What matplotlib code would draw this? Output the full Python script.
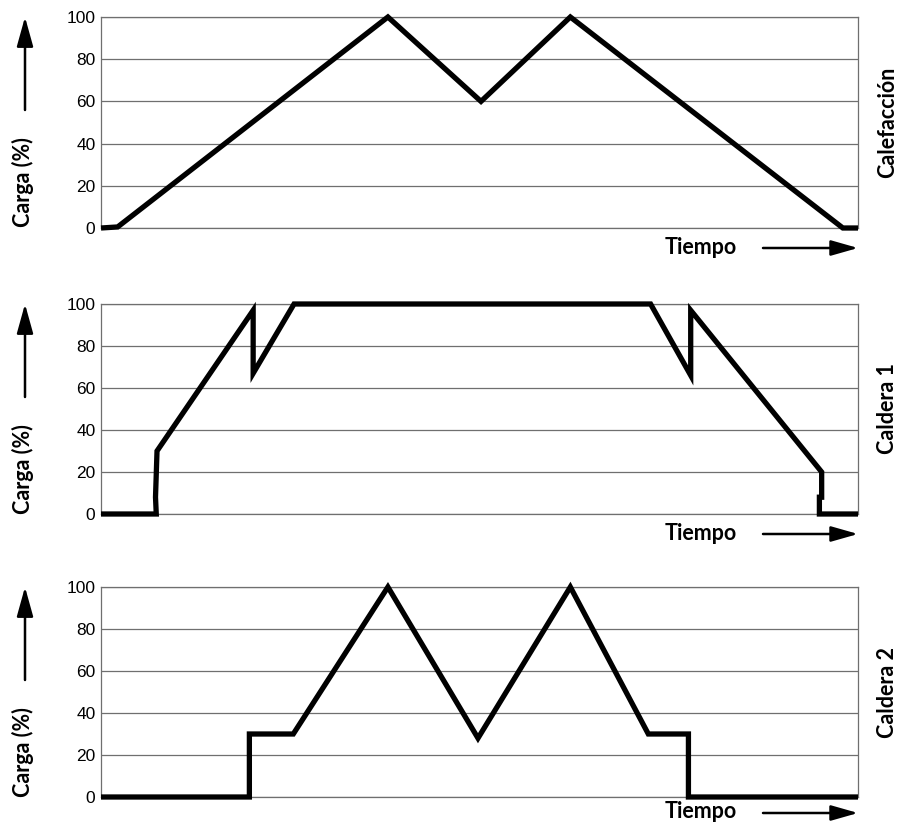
import matplotlib
matplotlib.use("Agg")
import matplotlib.pyplot as plt

# ---- data (time in % of the horizontal span, load in %) ----
calef_t = [0, 2.2, 37.9, 50.2, 62.0, 98.0, 100]
calef_y = [0, 0.5, 100, 60, 100, 0, 0]

cald1_t = [0, 7.3, 7.2, 7.4, 20.1, 20.1, 25.5, 72.6, 77.9, 77.9, 95.2, 95.2, 94.9, 94.9, 100]
cald1_y = [0, 0, 8, 30, 97, 67, 100, 100, 66, 97, 20, 8, 8, 0, 0]

cald2_t = [0, 19.6, 19.6, 25.4, 37.9, 49.8, 62.0, 72.3, 77.6, 77.6, 100]
cald2_y = [0, 0, 30, 30, 100, 28, 100, 30, 30, 0, 0]

yticks = [0, 20, 40, 60, 80, 100]
panel_names = ["Calefacción", "Caldera 1", "Caldera 2"]
ylabel = "Carga (%)"
xlabel = "Tiempo"

series = [(calef_t, calef_y), (cald1_t, cald1_y), (cald2_t, cald2_y)]

W, H = 899, 823
fig = plt.figure(figsize=(W / 100, H / 100), dpi=100)

# panel pixel geometry (top, bottom of plotting area, y of "Tiempo" row)
panels_px = [(17, 228, 247), (304, 514, 533), (587, 797, 812)]
left_px, right_px = 101, 858

label_font = dict(family=["Lato", "DejaVu Sans"], fontweight="bold", fontsize=15.5, color="black")
grey = "#6f6f6f"

def fx(px):
    return px / W

def fy(py):
    return 1 - py / H

for (t, y), (top, bot, ty), name in zip(series, panels_px, panel_names):
    ax = fig.add_axes([fx(left_px), fy(bot), fx(right_px) - fx(left_px), (bot - top) / H])
    ax.set_xlim(0, 100)
    ax.set_ylim(0, 100)
    ax.set_yticks(yticks)
    ax.set_xticks([])
    ax.grid(axis="y", color=grey, linewidth=0.9)
    ax.set_axisbelow(True)
    for s in ax.spines.values():
        s.set_color(grey)
        s.set_linewidth(0.9)
    ax.tick_params(axis="y", length=0, pad=4, labelsize=12.5)
    for lab in ax.get_yticklabels():
        lab.set_fontfamily(["Liberation Sans", "DejaVu Sans"])
    ax.plot(t, y, color="black", linewidth=3.8, solid_joinstyle="miter",
            solid_capstyle="butt", clip_on=False, zorder=5)

    # left label "Carga (%)" + upward arrow
    fig.text(fx(23), fy(top + 165), ylabel, rotation=90, ha="center", va="center", **label_font)
    fig.add_artist(matplotlib.patches.FancyArrowPatch(
        (fx(25), fy(top + 93)), (fx(25), fy(top)), transform=fig.transFigure,
        arrowstyle="-|>,head_length=1.8,head_width=0.5", mutation_scale=10,
        linewidth=1.8, color="black", shrinkA=0, shrinkB=0))

    # right panel name
    fig.text(fx(888), fy((top + bot) / 2), name, rotation=90, ha="center", va="center", **label_font)

    # "Tiempo" with arrow
    fig.text(fx(737), fy(ty), xlabel, ha="right", va="center", **label_font)
    fig.add_artist(matplotlib.patches.FancyArrowPatch(
        (fx(763), fy(ty + 1)), (fx(858), fy(ty + 1)), transform=fig.transFigure,
        arrowstyle="-|>,head_length=1.65,head_width=0.47", mutation_scale=10,
        linewidth=1.8, color="black", shrinkA=0, shrinkB=0))

fig.savefig("out.png", dpi=100)
